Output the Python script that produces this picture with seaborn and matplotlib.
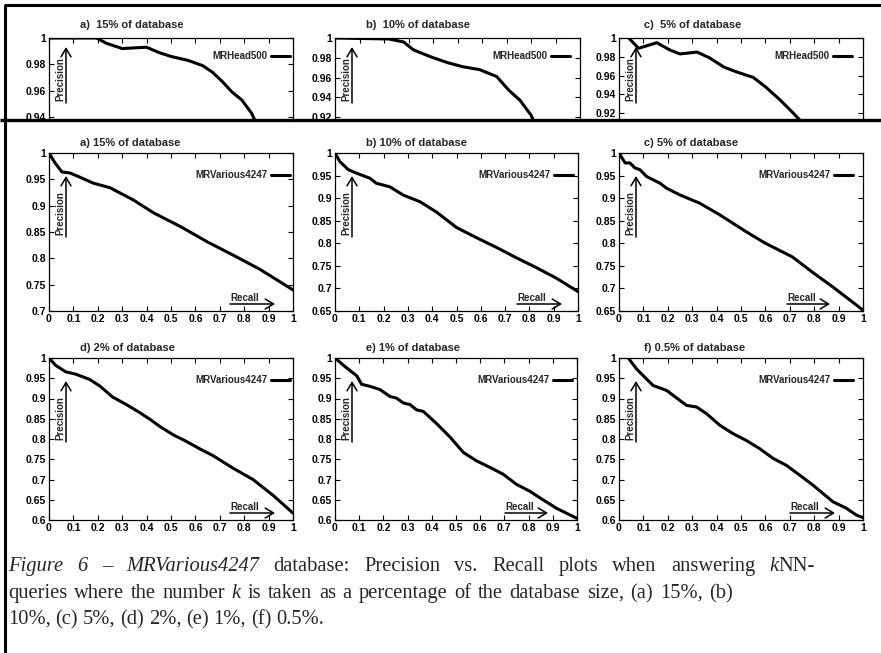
import matplotlib
matplotlib.use("Agg")
import matplotlib.pyplot as plt
import seaborn as sns

# style first, fonts after (set_theme resets font.family)
sns.set_theme(style="ticks")
plt.rcParams['font.family'] = ['Liberation Sans', 'DejaVu Sans']
plt.rcParams['axes.linewidth'] = 0.9
plt.rcParams['axes.edgecolor'] = 'black'

W, H = 881, 653

# --- data ---
recall_ticks = [0, 0.1, 0.2, 0.3, 0.4, 0.5, 0.6, 0.7, 0.8, 0.9, 1.0]
recall_labels = ['0', '0.1', '0.2', '0.3', '0.4', '0.5', '0.6', '0.7', '0.8', '0.9', '1']

yticks_top_a = [0.94, 0.96, 0.98, 1.0]
yticks_top_bc = [0.92, 0.94, 0.96, 0.98, 1.0]
yticks_070 = [0.7, 0.75, 0.8, 0.85, 0.9, 0.95, 1.0]
yticks_065 = [0.65, 0.7, 0.75, 0.8, 0.85, 0.9, 0.95, 1.0]
yticks_060 = [0.6, 0.65, 0.7, 0.75, 0.8, 0.85, 0.9, 0.95, 1.0]

top_titles = ['a)  15% of database', 'b)  10% of database', 'c)  5% of database']
titles = ['a) 15% of database', 'b) 10% of database', 'c) 5% of database',
          'd) 2% of database', 'e) 1% of database', 'f) 0.5% of database']

# previous figure (MRHead500), only its upper part is visible
rec_head15 = [0, 0.195, 0.235, 0.30, 0.40, 0.45, 0.50, 0.57, 0.63, 0.67, 0.71, 0.75, 0.79, 0.83, 0.85]
prec_head15 = [1.0, 1.0, 0.996, 0.992, 0.993, 0.989, 0.986, 0.983, 0.979, 0.974, 0.967, 0.959, 0.953, 0.943, 0.935]
rec_head10 = [0, 0.22, 0.28, 0.32, 0.39, 0.46, 0.52, 0.59, 0.66, 0.71, 0.755, 0.80, 0.815]
prec_head10 = [1.0, 0.999, 0.996, 0.988, 0.981, 0.975, 0.971, 0.968, 0.961, 0.947, 0.937, 0.922, 0.914]
rec_head5 = [0.04, 0.08, 0.155, 0.21, 0.25, 0.32, 0.37, 0.43, 0.48, 0.55, 0.60, 0.66, 0.71, 0.75]
prec_head5 = [1.0, 0.989, 0.995, 0.987, 0.983, 0.985, 0.979, 0.969, 0.964, 0.958, 0.948, 0.934, 0.921, 0.910]

# MRVarious4247
rec_15 = [0, 0.025, 0.053, 0.086, 0.127, 0.18, 0.25, 0.345, 0.43, 0.54, 0.65, 0.755, 0.865, 1.0]
prec_15 = [1.0, 0.981, 0.964, 0.962, 0.954, 0.943, 0.934, 0.911, 0.886, 0.860, 0.831, 0.806, 0.779, 0.74]
rec_10 = [0, 0.02, 0.055, 0.09, 0.144, 0.17, 0.226, 0.28, 0.35, 0.418, 0.50, 0.58, 0.664, 0.746, 0.829, 0.91, 1.0]
prec_10 = [1.0, 0.981, 0.963, 0.955, 0.944, 0.933, 0.925, 0.907, 0.892, 0.869, 0.835, 0.813, 0.791, 0.768, 0.746, 0.723, 0.693]
rec_5 = [0, 0.025, 0.045, 0.065, 0.086, 0.113, 0.168, 0.195, 0.25, 0.33, 0.413, 0.52, 0.60, 0.71, 0.795, 0.877, 1.0]
prec_5 = [1.0, 0.978, 0.978, 0.967, 0.963, 0.948, 0.933, 0.922, 0.907, 0.889, 0.863, 0.826, 0.80, 0.77, 0.735, 0.703, 0.652]
rec_2 = [0, 0.027, 0.068, 0.11, 0.167, 0.208, 0.26, 0.32, 0.372, 0.413, 0.454, 0.51, 0.563, 0.62, 0.672, 0.754, 0.836, 0.92, 1.0]
prec_2 = [1.0, 0.982, 0.966, 0.96, 0.947, 0.931, 0.904, 0.884, 0.865, 0.849, 0.831, 0.810, 0.794, 0.775, 0.759, 0.728, 0.70, 0.66, 0.617]
rec_1 = [0, 0.045, 0.09, 0.11, 0.145, 0.186, 0.227, 0.254, 0.282, 0.31, 0.337, 0.365, 0.42, 0.475, 0.53,
         0.585, 0.64, 0.695, 0.75, 0.805, 0.846, 0.915, 1.0]
prec_1 = [1.0, 0.977, 0.956, 0.935, 0.93, 0.922, 0.905, 0.901, 0.889, 0.885, 0.872, 0.868, 0.838, 0.805, 0.767,
          0.746, 0.73, 0.713, 0.688, 0.671, 0.655, 0.629, 0.604]
rec_05 = [0.038, 0.072, 0.113, 0.14, 0.195, 0.25, 0.277, 0.318, 0.36, 0.413, 0.468, 0.52, 0.577, 0.632, 0.686,
          0.74, 0.795, 0.877, 0.932, 0.973, 1.0]
prec_05 = [1.0, 0.973, 0.948, 0.932, 0.92, 0.895, 0.883, 0.879, 0.862, 0.834, 0.813, 0.797, 0.776, 0.752, 0.735,
           0.711, 0.686, 0.645, 0.629, 0.612, 0.606]

# caption words: (text, italic); a word made of several runs is a list
caption_line1 = [[("Figure", True)], [("6", True)], [("\u2013", True)], [("MRVarious4247", True)],
                 [("database:", False)], [("Precision", False)], [("vs.", False)], [("Recall", False)],
                 [("plots", False)], [("when", False)], [("answering", False)], [("k", True), ("NN-", False)]]
caption_line2 = [[(w, False)] for w in "queries where the number".split()] + [[("k", True)]] + \
                [[(w, False)] for w in "is taken as a percentage of the database size, (a) 15%, (b)".split()]
caption_line3 = [[(w, False)] for w in "10%, (c) 5%, (d) 2%, (e) 1%, (f) 0.5%.".split()]

# --- layout in pixels: (left, top, right, bottom) ---
fig = plt.figure(figsize=(W / 100, H / 100), dpi=100)
fig.patch.set_facecolor('white')


def rect(l, t, r, b):
    return [l / W, 1 - b / H, (r - l) / W, (b - t) / H]


# overlay axes in pixel coordinates for frame, titles and arrows
ov = fig.add_axes([0, 0, 1, 1], zorder=10)
ov.set_xlim(0, W)
ov.set_ylim(H, 0)
ov.axis('off')
ov.patch.set_alpha(0)

panels = [
    # box, recall, precision, legend label, ylim, yticks, title, top-row?, legend dx, recall offsets
    ((49, 38, 293, 121), rec_head15, prec_head15, 'MRHead500', (0.937, 1.0), yticks_top_a, top_titles[0], True, 3, None),
    ((335, 38, 580, 121), rec_head10, prec_head10, 'MRHead500', (0.916, 1.0), yticks_top_bc, top_titles[1], True, 10, None),
    ((619, 38, 863, 121), rec_head5, prec_head5, 'MRHead500', (0.9115, 1.0), yticks_top_bc, top_titles[2], True, 11, None),
    ((49, 153, 293, 311), rec_15, prec_15, 'MRVarious4247', (0.7, 1.0), yticks_070, titles[0], False, 3, (63, 18)),
    ((335, 153, 578, 311), rec_10, prec_10, 'MRVarious4247', (0.65, 1.0), yticks_065, titles[1], False, 5, (61, 16)),
    ((619, 153, 863, 311), rec_5, prec_5, 'MRVarious4247', (0.65, 1.0), yticks_065, titles[2], False, 10, (76, 33)),
    ((49, 358, 293, 520), rec_2, prec_2, 'MRVarious4247', (0.6, 1.0), yticks_060, titles[3], False, 3, (63, 18)),
    ((335, 358, 577, 520), rec_1, prec_1, 'MRVarious4247', (0.6, 1.0), yticks_060, titles[4], False, 5, (72, 29)),
    ((619, 358, 863, 520), rec_05, prec_05, 'MRVarious4247', (0.6, 1.0), yticks_060, titles[5], False, 10, (73, 28)),
]

arrow_kw = dict(arrowstyle='->,head_length=0.5,head_width=0.3', lw=1.1, color='black',
                shrinkA=0, shrinkB=0, mutation_scale=12)

for box, rec, prec, label, ylim, yt, title, top_row, leg_dx, rec_off in panels:
    l, t, r, b = box
    ax = fig.add_axes(rect(l, t, r, b))
    sns.lineplot(x=rec, y=prec, ax=ax, color='black', lw=2.2, label=label, errorbar=None)
    ax.set_xlim(0, 1)
    ax.set_ylim(*ylim)
    ax.set_xticks(recall_ticks)
    ax.set_xticklabels(recall_labels)
    ax.set_yticks(yt)
    ax.set_yticklabels([f"{v:g}" for v in yt])
    ax.set_xlabel('')
    ax.set_ylabel('')
    ax.tick_params(direction='in', length=3.5, width=0.8, top=True, right=True,
                   labelsize=7.5, pad=2, colors='black')
    for lab in ax.get_xticklabels() + ax.get_yticklabels():
        lab.set_fontweight('bold')
    if top_row:
        ax.spines['bottom'].set_visible(False)
        ax.tick_params(bottom=False, labelbottom=False)
        yc = t + 18
    else:
        yc = t + 22
    ax.legend(loc='center right', bbox_to_anchor=((r - leg_dx) / W, 1 - yc / H),
              bbox_transform=fig.transFigure, borderaxespad=0, borderpad=0,
              handlelength=2.0, handletextpad=0.3, markerfirst=False, frameon=False,
              prop={'size': 7, 'weight': 'bold'})

    # title above the panel
    ty = t - 13 if top_row else t - 10
    ov.text(l + 31 if l < 600 else l + 25, ty, title, ha='left', va='center',
            fontsize=8, fontweight='bold')

    # "Precision" with an upward arrow
    if top_row:
        pc, tip = t + 41, t + 9
    else:
        pc, tip = t + 60, t + 23
    ov.text(l + 11, pc, 'Precision', rotation=90, ha='center', va='center',
            fontsize=7, fontweight='bold')
    ov.annotate('', xy=(l + 17, tip), xytext=(l + 17, pc + 24), arrowprops=arrow_kw)

    # "Recall" with a rightward arrow
    if rec_off is not None:
        dx_text, dx_tip = rec_off
        ov.text(r - dx_text, b - 13, 'Recall', ha='left', va='center',
                fontsize=7, fontweight='bold')
        ov.annotate('', xy=(r - dx_tip, b - 7), xytext=(r - dx_text, b - 7), arrowprops=arrow_kw)

# page frame lines from the scan
ov.plot([4, W], [5, 5], color='black', lw=2.2, solid_capstyle='butt')
ov.plot([5, 5], [5, H], color='black', lw=2.2, solid_capstyle='butt')
ov.plot([0, W], [120, 120], color='black', lw=2.4, solid_capstyle='butt')

# caption: words placed one by one, justified to the scanned line ends
renderer = fig.canvas.get_renderer()
CAP_SIZE = 14.8


def draw_line(y, words, x0, x1=None, gap=4.8):
    placed = []
    for word in words:
        parts = []
        for s, italic in word:
            tx = ov.text(0, y, s, fontsize=CAP_SIZE, family=['Liberation Serif', 'DejaVu Serif'],
                         style='italic' if italic else 'normal', ha='left', va='baseline')
            parts.append((tx, tx.get_window_extent(renderer=renderer).width))
        placed.append(parts)
    widths = [sum(w for _, w in parts) for parts in placed]
    if x1 is not None:
        gap = (x1 - x0 - sum(widths)) / (len(words) - 1)
    x = x0
    for parts in placed:
        for tx, w in parts:
            tx.set_x(x)
            x += w
        x += gap


draw_line(571, caption_line1, 8, 815)
draw_line(598, caption_line2, 8, 733)
draw_line(624, caption_line3, 8)

fig.savefig('out.png', dpi=100)
